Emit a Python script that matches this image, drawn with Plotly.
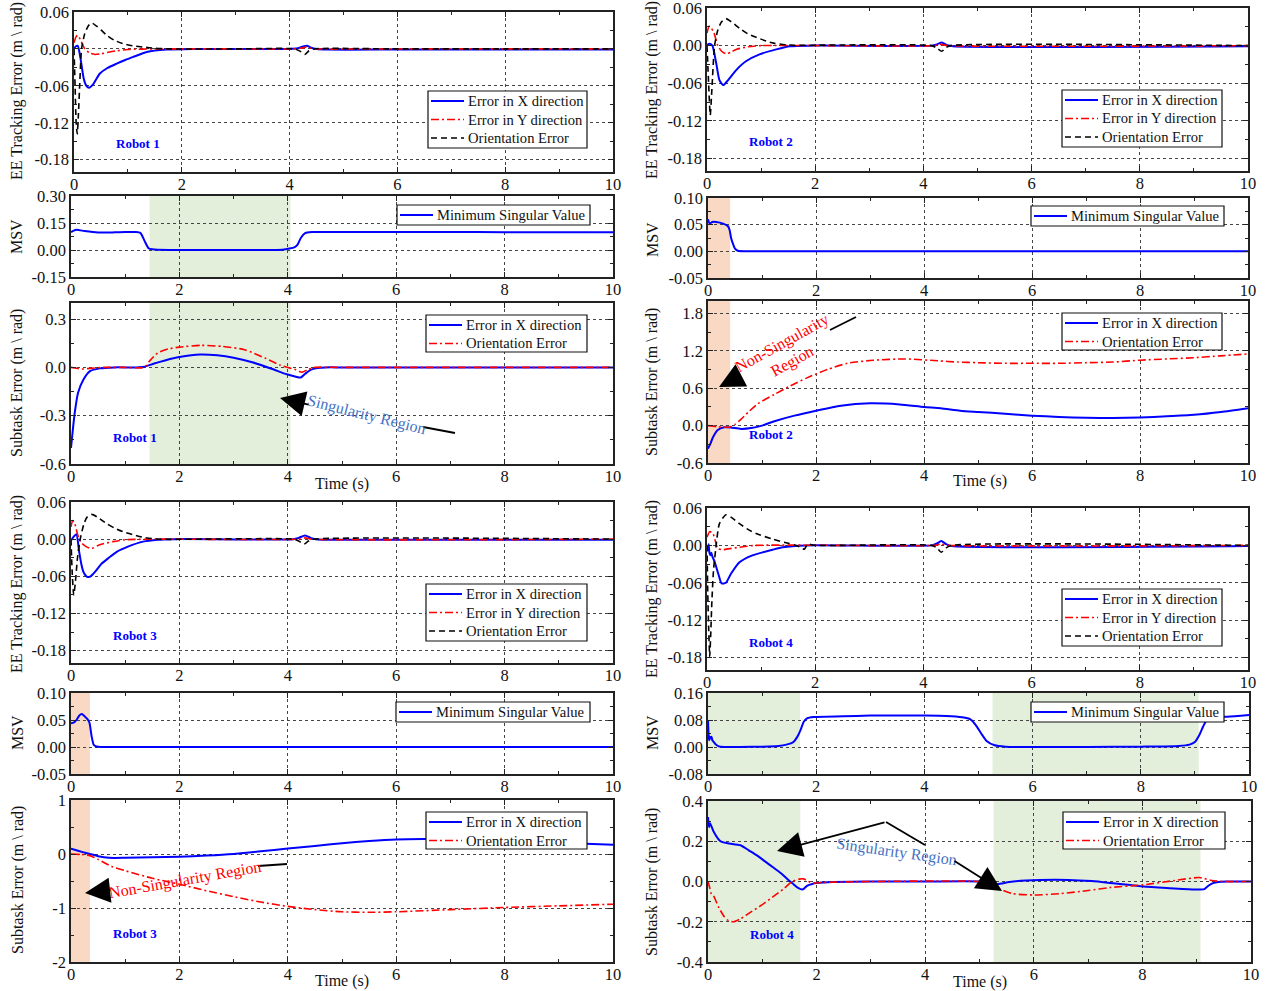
import plotly.graph_objects as go

# ---------------- DATA ----------------
time_ticks = [0, 2, 4, 6, 8, 10]

# Robot 1 - EE tracking error
r1_ee_tx = [0, 0.03, 0.07, 0.12, 0.18, 0.23, 0.28, 0.35, 0.48, 0.62, 0.79, 0.95, 1.1, 1.35, 1.72, 2.2, 3, 4, 4.15, 4.25, 4.32, 4.4, 4.5, 4.7, 6, 8, 10]
r1_ee_x = [0, 0.004, 0.005, -0.015, -0.048, -0.06, -0.063, -0.058, -0.04, -0.031, -0.024, -0.018, -0.013, -0.005, -0.001, 0, 0, 0, 0.001, 0.004, 0.005, 0.002, 0, -0.001, -0.001, -0.001, -0.001]
r1_ee_ty = [0, 0.04, 0.07, 0.12, 0.2, 0.3, 0.39, 0.5, 0.66, 0.8, 1.0, 1.5, 3, 4, 4.2, 4.3, 4.4, 4.5, 6, 8, 10]
r1_ee_y = [0.01, 0.02, 0.022, 0.015, 0.0, -0.007, -0.009, -0.008, -0.005, -0.003, -0.001, 0, 0, 0, 0.001, 0.003, 0.001, 0, 0, 0, 0]
r1_ee_to = [0, 0.02, 0.04, 0.06, 0.08, 0.11, 0.14, 0.2, 0.27, 0.33, 0.42, 0.5, 0.61, 0.75, 0.91, 1.1, 1.29, 1.5, 1.8, 3, 4.1, 4.2, 4.28, 4.36, 4.45, 6, 8, 10]
r1_ee_o = [0, -0.06, -0.12, -0.138, -0.11, -0.05, 0.0, 0.025, 0.038, 0.042, 0.037, 0.031, 0.022, 0.014, 0.0085, 0.005, 0.003, 0.001, 0, 0, 0, -0.004, -0.009, -0.003, 0, 0, 0, 0]

# Robot 1 - MSV
r1_msv_t = [0, 0.1, 0.25, 0.5, 0.8, 1.0, 1.2, 1.28, 1.35, 1.4, 1.43, 1.5, 1.6, 2, 3, 3.9, 4.03, 4.12, 4.18, 4.24, 4.32, 4.45, 5, 6, 7, 8, 9, 10]
r1_msv_v = [0.10, 0.112, 0.105, 0.097, 0.098, 0.1, 0.1, 0.095, 0.055, 0.025, 0.01, 0.004, 0.001, 0, 0, 0.002, 0.008, 0.015, 0.03, 0.067, 0.094, 0.1, 0.1, 0.1, 0.1, 0.099, 0.099, 0.099]

# Robot 1 - subtask error
r1_sub_tx = [0, 0.03, 0.07, 0.13, 0.23, 0.35, 0.53, 0.8, 1.2, 1.35, 1.52, 1.75, 2.0, 2.38, 2.7, 3.0, 3.36, 3.7, 3.98, 4.15, 4.24, 4.32, 4.42, 4.55, 4.7, 5, 6, 7, 8, 9, 10]
r1_sub_x = [-0.5, -0.4, -0.28, -0.157, -0.075, -0.023, -0.006, 0, 0, 0.004, 0.023, 0.045, 0.064, 0.08, 0.075, 0.06, 0.03, -0.008, -0.043, -0.058, -0.063, -0.04, -0.015, -0.004, 0, 0, 0, 0, 0, 0, 0]
r1_sub_to = [0, 0.1, 0.2, 0.35, 0.6, 1.0, 1.35, 1.45, 1.6, 1.8, 2.0, 2.4, 2.8, 3.2, 3.6, 3.86, 4.0, 4.15, 4.26, 4.38, 4.5, 5, 10]
r1_sub_o = [0, -0.005, -0.01, -0.006, 0, 0, 0, 0.04, 0.09, 0.115, 0.126, 0.137, 0.13, 0.11, 0.055, 0.014, 0.0, -0.015, -0.03, -0.012, 0, 0, 0]

# Robot 3 - EE tracking error
r3_ee_tx = [0, 0.05, 0.1, 0.15, 0.19, 0.23, 0.3, 0.36, 0.41, 0.47, 0.56, 0.7, 0.85, 1.05, 1.33, 1.6, 1.9, 4.1, 4.2, 4.32, 4.42, 4.52, 4.7, 10]
r3_ee_x = [-0.002, 0.004, 0.008, -0.02, -0.04, -0.053, -0.061, -0.06, -0.056, -0.05, -0.04, -0.03, -0.02, -0.012, -0.004, -0.001, 0, 0, 0.002, 0.006, 0.002, 0, -0.001, -0.001]
r3_ee_ty = [0, 0.03, 0.07, 0.12, 0.18, 0.28, 0.38, 0.53, 0.77, 1.0, 1.5, 4.2, 4.32, 4.45, 10]
r3_ee_y = [0.02, 0.03, 0.025, 0.008, -0.005, -0.012, -0.015, -0.009, -0.004, -0.001, 0, 0, 0.002, 0, 0]
r3_ee_to = [0, 0.02, 0.05, 0.08, 0.12, 0.17, 0.24, 0.3, 0.38, 0.48, 0.66, 0.8, 0.96, 1.15, 1.33, 1.6, 4.1, 4.2, 4.3, 4.38, 4.48, 10]
r3_ee_o = [0, -0.05, -0.09, -0.07, -0.03, 0, 0.025, 0.036, 0.04, 0.036, 0.025, 0.018, 0.012, 0.007, 0.003, 0, 0, -0.003, -0.008, -0.003, 0, 0]

# Robot 3 - MSV
r3_msv_t = [0, 0.05, 0.1, 0.15, 0.2, 0.25, 0.3, 0.34, 0.38, 0.42, 0.47, 0.55, 1, 10]
r3_msv_v = [0.044, 0.045, 0.05, 0.058, 0.061, 0.057, 0.052, 0.045, 0.02, 0.004, 0.001, 0, 0, 0]

# Robot 3 - subtask error
r3_sub_tx = [0, 0.1, 0.2, 0.35, 0.5, 0.7, 1.0, 1.5, 2.0, 2.5, 3.0, 3.5, 4.0, 4.5, 5.0, 5.5, 6.0, 6.5, 7.0, 7.5, 8.0, 8.5, 9.0, 9.5, 10]
r3_sub_x = [0.1, 0.07, 0.04, 0.0, -0.04, -0.07, -0.07, -0.06, -0.05, -0.03, 0.0, 0.05, 0.1, 0.15, 0.2, 0.24, 0.27, 0.28, 0.28, 0.27, 0.26, 0.24, 0.22, 0.19, 0.17]
r3_sub_to = [0, 0.2, 0.35, 0.5, 0.75, 1.0, 1.5, 2.0, 2.5, 3.0, 3.5, 4.0, 4.5, 5.0, 5.5, 6.0, 7.0, 8.0, 9.0, 10.0]
r3_sub_o = [0.0, -0.01, -0.03, -0.1, -0.23, -0.31, -0.45, -0.56, -0.68, -0.79, -0.89, -0.97, -1.03, -1.07, -1.08, -1.07, -1.03, -0.99, -0.96, -0.93]

# Robot 2 - EE tracking error
r2_ee_tx = [0, 0.05, 0.1, 0.17, 0.23, 0.3, 0.39, 0.54, 0.72, 0.97, 1.28, 1.53, 2.0, 4.15, 4.25, 4.34, 4.43, 4.55, 10]
r2_ee_x = [0.001, 0.003, 0.0, -0.028, -0.055, -0.063, -0.055, -0.039, -0.025, -0.014, -0.006, -0.001, 0, 0, 0.002, 0.005, 0.001, -0.001, -0.001]
r2_ee_ty = [0, 0.04, 0.08, 0.13, 0.2, 0.27, 0.35, 0.45, 0.54, 0.75, 1.0, 4.2, 4.32, 4.45, 10]
r2_ee_y = [0.02, 0.031, 0.028, 0.02, 0.0, -0.009, -0.013, -0.01, -0.006, -0.002, 0, 0, 0.002, 0, 0]
r2_ee_to = [0, 0.03, 0.06, 0.09, 0.14, 0.2, 0.27, 0.35, 0.45, 0.61, 0.75, 0.92, 1.1, 1.23, 1.5, 4.15, 4.25, 4.34, 4.42, 4.5, 10]
r2_ee_o = [0, -0.06, -0.111, -0.07, 0, 0.025, 0.038, 0.043, 0.038, 0.027, 0.019, 0.013, 0.007, 0.004, 0.001, 0, -0.004, -0.009, -0.003, 0, 0]

# Robot 2 - MSV
r2_msv_t = [0, 0.03, 0.08, 0.15, 0.28, 0.37, 0.4, 0.43, 0.47, 0.5, 0.55, 0.7, 10]
r2_msv_v = [0.06, 0.052, 0.055, 0.055, 0.052, 0.047, 0.04, 0.024, 0.012, 0.005, 0.001, 0, 0]

# Robot 2 - subtask error
r2_sub_tx = [0, 0.05, 0.09, 0.18, 0.3, 0.42, 0.61, 0.8, 1.0, 1.23, 1.6, 2.0, 2.46, 3.0, 3.55, 4.0, 4.31, 4.67, 5.0, 5.5, 6.0, 6.5, 7.0, 7.5, 8.0, 8.5, 9.0, 9.5, 10]
r2_sub_x = [-0.37, -0.28, -0.19, -0.07, -0.027, -0.03, -0.053, -0.04, 0.0, 0.07, 0.16, 0.24, 0.32, 0.357, 0.34, 0.3, 0.28, 0.24, 0.22, 0.19, 0.16, 0.14, 0.125, 0.122, 0.13, 0.15, 0.175, 0.22, 0.28]
r2_sub_to = [0, 0.2, 0.4, 0.5, 0.61, 0.75, 0.92, 1.23, 1.53, 1.84, 2.21, 2.58, 3.06, 3.65, 4.26, 4.63, 5.0, 5.5, 6.0, 6.5, 7.0, 7.5, 8.0, 8.5, 9.0, 9.5, 10]
r2_sub_o = [0, -0.02, -0.025, 0.02, 0.1, 0.22, 0.35, 0.5, 0.64, 0.77, 0.9, 1.0, 1.05, 1.07, 1.04, 1.02, 1.01, 1.0, 1.0, 1.0, 1.01, 1.02, 1.05, 1.07, 1.09, 1.12, 1.15]

# Robot 4 - EE tracking error
r4_ee_tx = [0, 0.015, 0.03, 0.045, 0.06, 0.08, 0.1, 0.14, 0.21, 0.27, 0.35, 0.44, 0.6, 0.84, 1.21, 1.4, 1.83, 4.15, 4.25, 4.33, 4.42, 4.52, 10]
r4_ee_x = [0, -0.008, 0.002, -0.012, -0.016, -0.012, -0.018, -0.026, -0.046, -0.061, -0.06, -0.046, -0.027, -0.016, -0.007, -0.003, 0, 0, 0.003, 0.007, 0.002, -0.001, -0.001]
r4_ee_ty = [0, 0.05, 0.11, 0.16, 0.2, 0.28, 0.36, 0.6, 0.9, 4.2, 4.32, 4.45, 10]
r4_ee_y = [0.013, 0.022, 0.019, 0.005, -0.005, -0.007, -0.006, -0.003, 0, 0, 0.002, 0, 0]
r4_ee_to = [0, 0.015, 0.03, 0.05, 0.07, 0.09, 0.12, 0.16, 0.23, 0.35, 0.45, 0.6, 0.75, 0.91, 1.21, 1.52, 1.65, 1.74, 1.8, 1.86, 2.0, 4.15, 4.25, 4.33, 4.42, 4.52, 10]
r4_ee_o = [0, -0.08, -0.13, -0.178, -0.14, -0.09, -0.04, -0.007, 0.035, 0.049, 0.045, 0.035, 0.026, 0.019, 0.01, 0.003, 0.0, -0.004, -0.006, 0.002, 0, 0, -0.004, -0.011, -0.004, 0, 0]

# Robot 4 - MSV
r4_msv_t = [0, 0.01, 0.02, 0.035, 0.05, 0.065, 0.08, 0.1, 0.14, 0.2, 0.3, 0.6, 1.0, 1.3, 1.45, 1.58, 1.65, 1.71, 1.77, 1.83, 1.95, 2.5, 3, 3.5, 4, 4.4, 4.7, 4.85, 4.95, 5.05, 5.15, 5.3, 5.5, 6, 7, 8, 8.7, 8.9, 9.0, 9.08, 9.15, 9.22, 9.35, 9.6, 10]
r4_msv_v = [0.08, 0.04, 0.02, 0.03, 0.025, 0.03, 0.02, 0.016, 0.008, 0.002, 0, 0, 0.001, 0.003, 0.007, 0.015, 0.03, 0.05, 0.075, 0.085, 0.089, 0.091, 0.093, 0.093, 0.093, 0.092, 0.088, 0.082, 0.065, 0.04, 0.018, 0.005, 0.001, 0, 0, 0.001, 0.003, 0.007, 0.015, 0.035, 0.06, 0.08, 0.088, 0.09, 0.095]

# Robot 4 - subtask error
r4_sub_tx = [0, 0.02, 0.04, 0.07, 0.1, 0.23, 0.36, 0.6, 0.75, 0.9, 1.05, 1.21, 1.35, 1.46, 1.56, 1.65, 1.74, 1.83, 1.92, 2.0, 2.3, 3, 4, 5.0, 5.15, 5.27, 5.4, 5.55, 5.85, 6.64, 7.07, 7.5, 8.02, 8.5, 8.97, 9.14, 9.22, 9.3, 9.4, 9.55, 10]
r4_sub_x = [0.32, 0.27, 0.29, 0.27, 0.25, 0.2, 0.19, 0.18, 0.155, 0.13, 0.1, 0.068, 0.04, 0.013, -0.01, -0.03, -0.04, -0.02, -0.012, -0.008, -0.002, 0, 0, 0, -0.005, -0.015, -0.01, -0.002, 0.005, 0.008, 0.002, -0.01, -0.025, -0.033, -0.04, -0.038, -0.02, -0.008, -0.002, 0, 0]
r4_sub_to = [0, 0.03, 0.06, 0.1, 0.2, 0.3, 0.38, 0.47, 0.6, 0.8, 1.0, 1.2, 1.4, 1.55, 1.68, 1.76, 1.85, 1.95, 2.1, 2.5, 3, 5.0, 5.15, 5.3, 5.6, 6.0, 6.5, 7.0, 7.4, 8.0, 8.6, 9.05, 9.27, 9.5, 10]
r4_sub_o = [0, -0.03, -0.06, -0.07, -0.13, -0.175, -0.195, -0.2, -0.185, -0.15, -0.115, -0.075, -0.035, 0.0, 0.012, 0.013, 0.0, -0.008, -0.005, -0.002, 0, 0, -0.01, -0.03, -0.06, -0.067, -0.06, -0.045, -0.03, -0.017, 0.005, 0.02, 0.005, 0, 0]

# shaded regions (time intervals)
r1_sing_region = [1.45, 4.05]
r2_nonsing_region = [0.0, 0.41]
r3_nonsing_region = [0.0, 0.35]
r4_sing_regions = [[0.0, 1.7], [5.26, 9.07]]

# y ticks per panel
ee_ticks = [0.06, 0.0, -0.06, -0.12, -0.18]
msv1_ticks = [0.30, 0.15, 0.00, -0.15]
sub1_ticks = [0.3, 0.0, -0.3, -0.6]
msv3_ticks = [0.10, 0.05, 0.00, -0.05]
sub3_ticks = [1, 0, -1, -2]
msv2_ticks = [0.10, 0.05, 0.00, -0.05]
sub2_ticks = [1.8, 1.2, 0.6, 0.0, -0.6]
msv4_ticks = [0.16, 0.08, 0.00, -0.08]
sub4_ticks = [0.4, 0.2, 0.0, -0.2, -0.4]

# legend labels
ee_names = ["Error in X direction", "Error in Y direction", "Orientation Error"]
msv_names = ["Minimum Singular Value"]
sub_names = ["Error in X direction", "Orientation Error"]

# ---------------- LAYOUT HELPERS ----------------
W, H = 1268, 991
FONT = "Liberation Serif"
TXT = "#111111"
BLUE, RED, BLACK = "#0000FF", "#FF0000", "#000000"
GREEN_SHADE = "rgb(227,239,218)"
ORANGE_SHADE = "rgb(249,217,195)"
NOTE_BLUE = "#4472C4"
DASHDOT = "8px,3px,2px,3px"
DASH = "6px,4px"


def fx(p):
    return p / W


def fy(p):
    return 1 - p / H


# panel boxes in pixels: (left, right, top, bottom), y-range, ticks, minor step, fmt
panels = [
    ((74, 613, 12, 172), [-0.2, 0.06], ee_ticks, 0.03, "{:.2f}"),
    ((71, 613, 196, 277), [-0.15, 0.30], msv1_ticks, 0.075, "{:.2f}"),
    ((71, 613, 303, 464), [-0.6, 0.4], sub1_ticks, 0.15, "{:.1f}"),
    ((71, 613, 502, 663), [-0.2, 0.06], ee_ticks, 0.03, "{:.2f}"),
    ((71, 613, 693, 774), [-0.05, 0.10], msv3_ticks, 0.025, "{:.2f}"),
    ((71, 613, 800, 962), [-2, 1], sub3_ticks, 0.5, "{:.0f}"),
    ((707, 1248, 8, 171), [-0.2, 0.06], ee_ticks, 0.03, "{:.2f}"),
    ((708, 1248, 198, 278), [-0.05, 0.10], msv2_ticks, 0.025, "{:.2f}"),
    ((708, 1248, 301, 463), [-0.6, 2.0], sub2_ticks, 0.3, "{:.1f}"),
    ((707, 1248, 508, 670), [-0.2, 0.06], ee_ticks, 0.03, "{:.2f}"),
    ((708, 1249, 693, 774), [-0.08, 0.16], msv4_ticks, 0.04, "{:.2f}"),
    ((708, 1251, 801, 962), [-0.4, 0.4], sub4_ticks, 0.1, "{:.1f}"),
]

# legend boxes: (left, top, width, kind)
legend_boxes = [(428, 91, 159, "ee"), (397, 205, 193, "msv"), (426, 315, 161, "sub"),
                (426, 584, 161, "ee"), (396, 702, 194, "msv"), (426, 812, 161, "sub"),
                (1062, 90, 160, "ee"), (1031, 206, 193, "msv"), (1062, 313, 160, "sub"),
                (1062, 589, 160, "ee"), (1031, 702, 193, "msv"), (1063, 812, 162, "sub")]

STY = {
    "x": dict(color=BLUE, width=2),
    "y": dict(color=RED, width=1.6, dash=DASHDOT),
    "o": dict(color=BLACK, width=1.6, dash=DASH),
    "or": dict(color=RED, width=1.6, dash=DASHDOT),
}
LEG_STY = {"ee": ["x", "y", "o"], "msv": ["x"], "sub": ["x", "or"]}
LEG_NAMES = {"ee": ee_names, "msv": msv_names, "sub": sub_names}

fig = go.Figure()


def add(idx, t, v, name, sty):
    fig.add_trace(go.Scatter(
        x=t, y=v, mode="lines", name=name, showlegend=False,
        line=dict(shape="spline", smoothing=0.6, **STY[sty]),
        xaxis=f"x{idx}", yaxis=f"y{idx}", hoverinfo="skip"))


def add_ee(idx, tx, vx, ty, vy, to, vo):
    add(idx, tx, vx, ee_names[0], "x")
    add(idx, ty, vy, ee_names[1], "y")
    add(idx, to, vo, ee_names[2], "o")


def add_msv(idx, t, v):
    add(idx, t, v, msv_names[0], "x")


def add_sub(idx, tx, vx, to, vo):
    add(idx, tx, vx, sub_names[0], "x")
    add(idx, to, vo, sub_names[1], "or")


add_ee(1, r1_ee_tx, r1_ee_x, r1_ee_ty, r1_ee_y, r1_ee_to, r1_ee_o)
add_msv(2, r1_msv_t, r1_msv_v)
add_sub(3, r1_sub_tx, r1_sub_x, r1_sub_to, r1_sub_o)
add_ee(4, r3_ee_tx, r3_ee_x, r3_ee_ty, r3_ee_y, r3_ee_to, r3_ee_o)
add_msv(5, r3_msv_t, r3_msv_v)
add_sub(6, r3_sub_tx, r3_sub_x, r3_sub_to, r3_sub_o)
add_ee(7, r2_ee_tx, r2_ee_x, r2_ee_ty, r2_ee_y, r2_ee_to, r2_ee_o)
add_msv(8, r2_msv_t, r2_msv_v)
add_sub(9, r2_sub_tx, r2_sub_x, r2_sub_to, r2_sub_o)
add_ee(10, r4_ee_tx, r4_ee_x, r4_ee_ty, r4_ee_y, r4_ee_to, r4_ee_o)
add_msv(11, r4_msv_t, r4_msv_v)
add_sub(12, r4_sub_tx, r4_sub_x, r4_sub_to, r4_sub_o)

layout = dict(
    width=W, height=H, autosize=False,
    margin=dict(l=0, r=0, t=0, b=0, pad=0, autoexpand=False),
    paper_bgcolor="white", plot_bgcolor="white",
    font=dict(family=FONT, size=16, color=TXT),
    showlegend=False,
)

axis_common = dict(
    showline=True, linecolor="#222222", linewidth=1.5, mirror="allticks",
    ticks="inside", ticklen=5, tickcolor="#222222", tickwidth=1,
    showgrid=True, gridcolor="#444444", griddash="dot", gridwidth=1,
    zeroline=False, tickfont=dict(family=FONT, size=16.5, color=TXT),
    automargin=False, ticklabeloverflow="allow",
)

for i, (box, yr, yt, ymin, fmt) in enumerate(panels, start=1):
    l, r, t, b = box
    xa = dict(axis_common, domain=[fx(l), fx(r)], range=[0, 10], anchor=f"y{i}",
              tickmode="array", tickvals=time_ticks, ticktext=[str(v) for v in time_ticks],
              ticklabelstandoff=-4,
              minor=dict(dtick=1, tick0=0, ticks="inside", ticklen=3, tickcolor="#222222", showgrid=False))
    ya = dict(axis_common, domain=[fy(b), fy(t)], range=yr, anchor=f"x{i}",
              tickmode="array", tickvals=yt,
              ticktext=[fmt.format(v) for v in yt],
              minor=dict(dtick=ymin, tick0=0, ticks="inside", ticklen=3, tickcolor="#222222", showgrid=False))
    layout[f"xaxis{i}"] = xa
    layout[f"yaxis{i}"] = ya

fig.update_layout(**layout)

shapes = []
ann = []


def shade(idx, x0, x1, color):
    shapes.append(dict(type="rect", xref=f"x{idx}", yref=f"y{idx} domain",
                       x0=x0, x1=x1, y0=0, y1=1, fillcolor=color,
                       line=dict(width=0), layer="below"))


shade(2, r1_sing_region[0], r1_sing_region[1], GREEN_SHADE)
shade(3, r1_sing_region[0], r1_sing_region[1], GREEN_SHADE)
shade(5, r3_nonsing_region[0], r3_nonsing_region[1], ORANGE_SHADE)
shade(6, r3_nonsing_region[0], r3_nonsing_region[1], ORANGE_SHADE)
shade(8, r2_nonsing_region[0], r2_nonsing_region[1], ORANGE_SHADE)
shade(9, r2_nonsing_region[0], r2_nonsing_region[1], ORANGE_SHADE)
for a, b in r4_sing_regions:
    shade(11, a, b, GREEN_SHADE)
    shade(12, a, b, GREEN_SHADE)


def pline(x0, y0, x1, y1, color="black", width=1.8, dash=None):
    ln = dict(color=color, width=width)
    if dash:
        ln["dash"] = dash
    shapes.append(dict(type="line", xref="paper", yref="paper",
                       x0=fx(x0), y0=fy(y0), x1=fx(x1), y1=fy(y1), line=ln))


def text(x, y, s, size=16, color=TXT, angle=0, bold=False, anchor="center"):
    if bold:
        s = f"<b>{s}</b>"
    ann.append(dict(x=fx(x), y=fy(y), xref="paper", yref="paper", text=s,
                    showarrow=False, textangle=angle, xanchor=anchor, yanchor="middle",
                    borderpad=0,
                    font=dict(family=FONT, size=size, color=color)))


def arrow(hx, hy, tx, ty):
    ann.append(dict(x=fx(hx), y=fy(hy), xref="paper", yref="paper", text="",
                    showarrow=True, ax=tx - hx, ay=ty - hy, axref="pixel", ayref="pixel",
                    arrowhead=2, arrowsize=2.8, arrowwidth=1.8, arrowcolor="black",
                    standoff=0, startstandoff=0))


# legends (drawn as boxes with line samples and labels)
ROW_OFF = [10, 28.5, 47]
HEIGHTS = {"ee": 57, "msv": 20, "sub": 37}
for (lx, ly, lw, kind) in legend_boxes:
    shapes.append(dict(type="rect", xref="paper", yref="paper",
                       x0=fx(lx), x1=fx(lx + lw), y0=fy(ly + HEIGHTS[kind]), y1=fy(ly),
                       fillcolor="white", line=dict(color="#111111", width=1.2), layer="above"))
    for k, (sty, name) in enumerate(zip(LEG_STY[kind], LEG_NAMES[kind])):
        ry = ly + ROW_OFF[k]
        s = STY[sty]
        pline(lx + 3, ry, lx + 36, ry, color=s["color"], width=s["width"], dash=s.get("dash"))
        text(lx + 39, ry, name, size=14.6, anchor="left")

# annotation connector lines
pline(423, 427, 455, 433)      # Robot 1 singularity label tail
pline(830, 330, 856, 317)      # Robot 2 non-singularity tail
pline(258, 866, 287, 864)      # Robot 3 non-singularity tail
pline(886, 822, 925, 845)      # Robot 4 singularity

ee_title = "EE Tracking Error (m \\ rad)"
sub_title = "Subtask Error (m \\ rad)"
for (x, y, s) in [(17, 91, ee_title), (17, 237, "MSV"), (17, 383, sub_title),
                  (17, 584, ee_title), (17, 733, "MSV"), (18, 880, sub_title),
                  (652, 90, ee_title), (652, 240, "MSV"), (652, 382, sub_title),
                  (652, 589, ee_title), (652, 733, "MSV"), (652, 882, sub_title)]:
    text(x, y, s, size=16, angle=-90)

for (x, y) in [(342, 484), (980, 481), (342, 981), (980, 982)]:
    text(x, y, "Time (s)", size=16)

for (x, y, s) in [(138, 143, "Robot 1"), (135, 437, "Robot 1"),
                  (771, 142, "Robot 2"), (771, 434, "Robot 2"),
                  (135, 635, "Robot 3"), (135, 933, "Robot 3"),
                  (771, 642, "Robot 4"), (772, 934, "Robot 4")]:
    text(x, y, s, size=13, color=BLUE, bold=True)

text(367, 415, "Singularity Region", size=16, color=NOTE_BLUE, angle=14)
arrow(280, 398, 310, 405)
text(787, 352, "Non-Singularity<br>Region", size=16, color=RED, angle=-29)
arrow(719, 387, 742, 375)
text(185, 880, "Non-Singularity Region", size=16, color=RED, angle=-10)
arrow(85, 893, 112, 890)
text(896, 852, "Singularity Region", size=16, color=NOTE_BLUE, angle=8)
arrow(777, 851, 886, 822)
arrow(1002, 891, 953, 860)

fig.update_layout(shapes=shapes, annotations=ann)

fig.write_html("out.html")
